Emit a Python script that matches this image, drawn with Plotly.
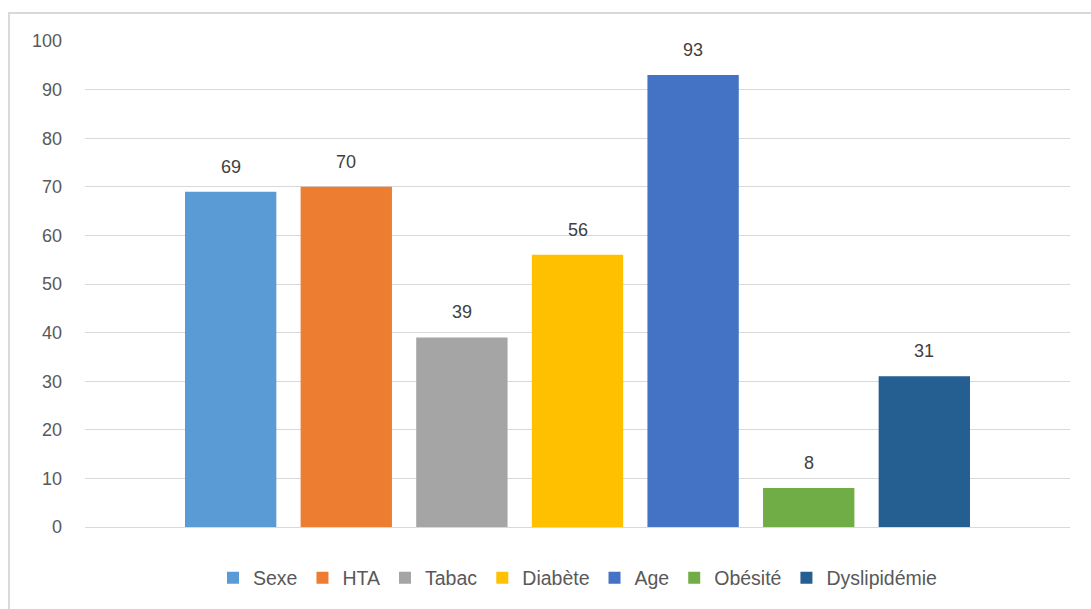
import plotly.graph_objects as go

# Risk factors and their values
categories = ["Sexe", "HTA", "Tabac", "Diabète", "Age", "Obésité", "Dyslipidémie"]
values = [69, 70, 39, 56, 93, 8, 31]
colors = ["#5B9BD5", "#ED7D31", "#A5A5A5", "#FFC000", "#4472C4", "#70AD47", "#255E91"]
y_ticks = list(range(0, 101, 10))

FONT = "Liberation Sans"
TEXT_GREY = "#595959"

fig = go.Figure()
for i, (name, val, col) in enumerate(zip(categories, values, colors)):
    fig.add_trace(go.Bar(
        x=[i], y=[val], name=name, width=0.79,
        marker=dict(color=col, line=dict(width=0)),
        hoverinfo="name+y",
    ))
    fig.add_annotation(
        x=i, y=val, text=str(val), showarrow=False,
        yanchor="bottom", yshift=13,
        font=dict(family=FONT, size=18, color="#404040"),
    )

# Light outer frame of the chart area
fig.add_shape(
    type="rect", xref="paper", yref="paper",
    x0=-0.0772, x1=1.2, y0=-0.4, y1=1.0577,
    line=dict(color="#D9D9D9", width=2), fillcolor="rgba(0,0,0,0)",
    layer="below",
)

fig.update_layout(
    width=1091, height=609,
    margin=dict(l=85, r=21, t=41, b=82),
    paper_bgcolor="white", plot_bgcolor="white",
    barmode="overlay",
    showlegend=True,
    legend=dict(
        orientation="h", x=0.5, xanchor="center", y=-0.105, yanchor="middle",
        font=dict(family=FONT, size=19.5, color=TEXT_GREY),
        itemwidth=30, tracegroupgap=0,
    ),
    xaxis=dict(
        range=[-1.26, 7.26], showticklabels=False, showgrid=False,
        zeroline=False, showline=False, ticks="",
    ),
    yaxis=dict(
        range=[0, 100], tickvals=y_ticks, showgrid=True, gridcolor="#D9D9D9",
        gridwidth=1, zeroline=True, zerolinecolor="#D9D9D9", zerolinewidth=1,
        showline=False, ticks="", ticklabelstandoff=22,
        tickfont=dict(family=FONT, size=18, color=TEXT_GREY),
    ),
    font=dict(family=FONT),
)

fig.write_html("out.html")
